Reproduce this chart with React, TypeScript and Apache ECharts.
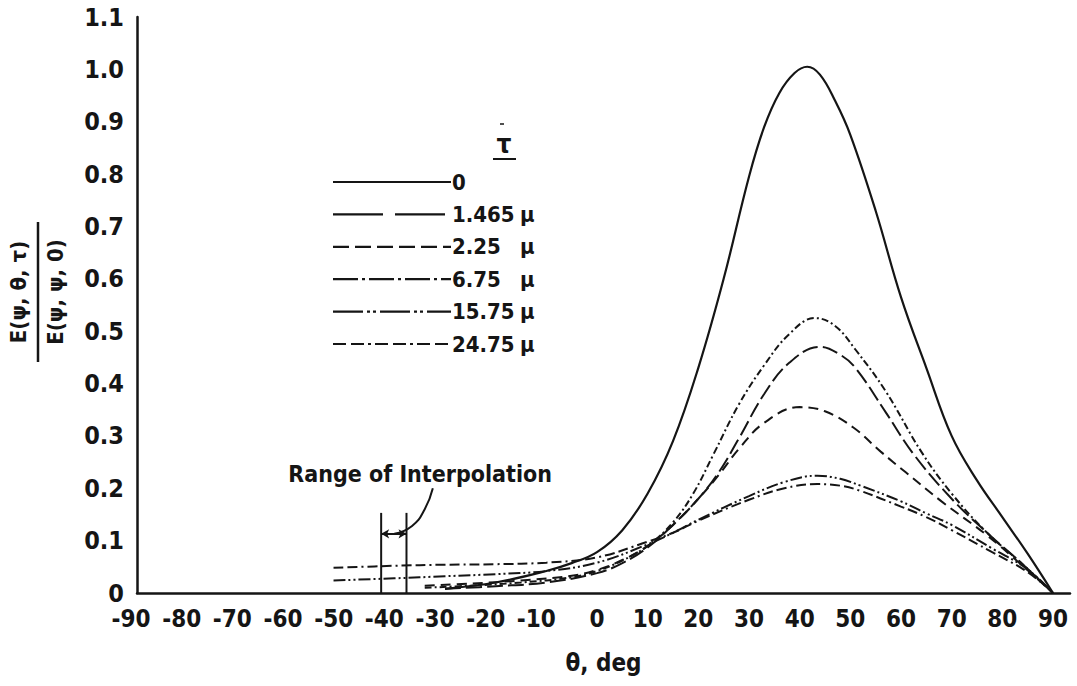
import React, { useEffect, useRef } from 'react';
import * as echarts from 'echarts';

const FONT = "'DejaVu Sans Condensed', 'Liberation Sans', sans-serif";
const INK = '#151515';

// ---- axis ticks ----
const xTicks = [-90, -80, -70, -60, -50, -40, -30, -20, -10, 0, 10, 20, 30, 40, 50, 60, 70, 80, 90];

// ---- legend / series labels ----
const tauValues = ['0', '1.465', '2.25', '6.75', '15.75', '24.75'];
const tauUnit = 'μ';

// ---- series data: [theta (deg), E ratio] ----
const tau0: number[][] = [
  [-30, 0.008], [-20, 0.02], [-10, 0.042], [-5, 0.057], [0, 0.078], [5, 0.12], [10, 0.19],
  [15, 0.29], [20, 0.43], [25, 0.6], [30, 0.795], [33, 0.89], [36, 0.955], [39, 0.993],
  [41.5, 1.005], [44, 0.99], [47, 0.94], [50, 0.875], [55, 0.73], [60, 0.565], [65, 0.43],
  [70, 0.3], [75, 0.215], [80, 0.145], [85, 0.075], [90, 0],
];
const tau1465: number[][] = [
  [-30, 0.008], [-20, 0.013], [-10, 0.02], [0, 0.038], [5, 0.057], [10, 0.087], [15, 0.13],
  [20, 0.18], [24, 0.23], [28, 0.295], [33, 0.38], [38, 0.44], [44, 0.47], [48, 0.455],
  [51, 0.43], [57, 0.345], [62.5, 0.265], [70, 0.18], [77, 0.115], [84, 0.055], [90, 0],
];
const tau225: number[][] = [
  [-34, 0.014], [-25, 0.018], [-15, 0.024], [-5, 0.033], [0, 0.044], [5, 0.063], [10, 0.09],
  [15, 0.13], [20, 0.18], [24, 0.225], [28, 0.275], [33, 0.325], [40, 0.355], [45, 0.347],
  [50.6, 0.316], [56, 0.27], [61, 0.23], [68, 0.175], [77, 0.11], [84, 0.052], [90, 0],
];
const tau675: number[][] = [
  [-34, 0.01], [-25, 0.014], [-15, 0.02], [-5, 0.03], [0, 0.042], [5, 0.062], [10, 0.09],
  [15, 0.135], [19, 0.19], [23, 0.265], [28, 0.36], [33, 0.435], [38, 0.495], [43, 0.525],
  [47, 0.51], [51, 0.465], [57, 0.385], [64, 0.27], [70, 0.19], [77, 0.115], [84, 0.055], [90, 0],
];
const tau1575: number[][] = [
  [-52, 0.024], [-40, 0.028], [-30, 0.032], [-20, 0.036], [-10, 0.042], [0, 0.058], [10, 0.093],
  [15, 0.115], [20, 0.14], [30, 0.185], [37, 0.212], [43.5, 0.224], [48, 0.218], [52, 0.205],
  [60, 0.175], [65, 0.152], [70, 0.13], [78, 0.085], [85, 0.045], [90, 0],
];
const tau2475: number[][] = [
  [-52, 0.048], [-40, 0.052], [-30, 0.054], [-20, 0.055], [-10, 0.058], [0, 0.068], [10, 0.098],
  [15, 0.115], [20, 0.138], [30, 0.178], [37, 0.2], [43.5, 0.208], [48, 0.205], [52, 0.195],
  [60, 0.165], [65, 0.145], [70, 0.12], [78, 0.078], [85, 0.04], [90, 0],
];

// ---- "Range of Interpolation" annotation ----
const interpLeft: number[][] = [[-42.6, 0], [-42.6, 0.153]];
const interpRight: number[][] = [[-37.6, 0], [-37.6, 0.153]];
const interpArrowY = 0.113;
const interpLeader: number[][] = [[-40, 0.113], [-36.5, 0.128], [-34, 0.16], [-32.4, 0.2]];
const interpLabelAt: number[][] = [[-34.9, 0.205]];
const interpLabel = 'Range of Interpolation';

const seriesData = [tau0, tau1465, tau225, tau675, tau1575, tau2475];
const plotDashes: any[] = ['solid', [16, 5], [10, 6], [7, 3, 2, 3], [12, 3, 2, 3, 2, 3], [10, 4, 10, 4, 2, 4]];
const legendDashes: any[] = [null, [50, 12], [16, 6], [25, 4, 3, 4], [30, 4, 3, 3, 3, 4], [13, 5, 13, 4, 3, 4]];

export default function App() {
  const ref = useRef<HTMLDivElement>(null);

  useEffect(() => {
    if (!ref.current) return;
    const chart = echarts.init(ref.current, null, { renderer: 'svg' });

    const lineSeries = seriesData.map((d, i) => ({
      name: tauValues[i] + (i === 0 ? '' : ' ' + tauUnit),
      type: 'line',
      data: d,
      smooth: 0.4,
      showSymbol: false,
      symbol: 'none',
      silent: true,
      lineStyle: { color: INK, width: i === 0 ? 2.2 : 2, type: plotDashes[i] },
      z: 3,
    }));

    const annotSeries = [
      {
        type: 'line', data: interpLeft, showSymbol: false, symbol: 'none', silent: true,
        lineStyle: { color: INK, width: 2 },
      },
      {
        type: 'line', data: interpRight, showSymbol: false, symbol: 'none', silent: true,
        lineStyle: { color: INK, width: 2 },
        markLine: {
          silent: true,
          symbol: ['arrow', 'arrow'],
          symbolSize: [7, 8],
          label: { show: false },
          lineStyle: { color: INK, width: 2, type: 'solid' },
          data: [[{ coord: [interpLeft[0][0], interpArrowY] }, { coord: [interpRight[0][0], interpArrowY] }]],
        },
      },
      {
        type: 'line', data: interpLeader, smooth: 0.5, showSymbol: false, symbol: 'none', silent: true,
        lineStyle: { color: INK, width: 2 },
      },
      {
        type: 'scatter', data: interpLabelAt, symbolSize: 0, silent: true,
        itemStyle: { opacity: 1, color: INK },
        label: {
          show: true, position: 'top', distance: 0, formatter: interpLabel, opacity: 1,
          color: INK, fontFamily: FONT, fontSize: 23, fontWeight: 'bold',
        },
      },
    ];

    const rowY0 = 182;
    const rowStep = 32.4;
    const legendChildren: any[] = [];
    tauValues.forEach((v, i) => {
      const y = rowY0 + i * rowStep;
      legendChildren.push({
        type: 'line',
        shape: { x1: 333, y1: y, x2: 451, y2: y },
        style: { stroke: INK, lineWidth: 2.2, lineDash: legendDashes[i] || undefined },
      });
      legendChildren.push({
        type: 'text', x: 452, y,
        style: { text: v, fill: INK, font: `bold 22px ${FONT}`, align: 'left', verticalAlign: 'middle' },
      });
      if (i > 0) {
        legendChildren.push({
          type: 'text', x: 520, y,
          style: { text: tauUnit, fill: INK, font: `bold 22px ${FONT}`, align: 'left', verticalAlign: 'middle' },
        });
      }
    });
    // header tau with bars
    legendChildren.push({
      type: 'text', x: 504, y: 157,
      style: { text: 'τ', fill: INK, font: `bold 26px ${FONT}`, align: 'center', verticalAlign: 'bottom' },
    });
    legendChildren.push({ type: 'line', shape: { x1: 493, y1: 159, x2: 516, y2: 159 }, style: { stroke: INK, lineWidth: 2 } });
    legendChildren.push({ type: 'line', shape: { x1: 500, y1: 124, x2: 504, y2: 124 }, style: { stroke: INK, lineWidth: 1.5 } });

    const yTitle = {
      type: 'group', x: 38, y: 292, rotation: Math.PI / 2,
      children: [
        { type: 'text', x: 0, y: -9, style: { text: 'E(ψ, θ, τ)', fill: INK, font: `bold 22px ${FONT}`, align: 'center', verticalAlign: 'bottom' } },
        { type: 'line', shape: { x1: -70, y1: 0, x2: 70, y2: 0 }, style: { stroke: INK, lineWidth: 2.5 } },
        { type: 'text', x: 0, y: 6, style: { text: 'E(ψ, ψ, 0)', fill: INK, font: `bold 22px ${FONT}`, align: 'center', verticalAlign: 'top' } },
      ],
    };

    const option: any = {
      animation: false,
      backgroundColor: '#ffffff',
      grid: { left: 137, right: 7, top: 17, bottom: 93 },
      xAxis: {
        type: 'value', min: -90.79, max: 93.36,
        axisLine: { show: true, onZero: false, lineStyle: { color: INK, width: 2.5 } },
        axisTick: { show: false },
        splitLine: { show: false },
        axisLabel: {
          customValues: xTicks,
          margin: 14,
          color: INK, fontFamily: FONT, fontSize: 24, fontWeight: 'bold',
          formatter: (v: number) => (v < 0 ? `{neg|${v}}` : `${v}`),
          rich: { neg: { padding: [0, 20, 0, 0], color: INK, fontFamily: FONT, fontSize: 24, fontWeight: 'bold' } },
        },
        name: 'θ, deg', nameLocation: 'middle', nameGap: 58,
        nameTextStyle: { color: INK, fontFamily: FONT, fontSize: 24, fontWeight: 'bold' },
      },
      yAxis: {
        type: 'value', min: 0, max: 1.1, interval: 0.1,
        axisLine: { show: true, onZero: false, lineStyle: { color: INK, width: 2.5 } },
        axisTick: { show: false },
        splitLine: { show: false },
        axisLabel: {
          margin: 13,
          color: INK, fontFamily: FONT, fontSize: 25, fontWeight: 'bold',
          formatter: (v: number) => (Math.abs(v) < 1e-9 ? '0' : v.toFixed(1)),
        },
      },
      series: [...lineSeries, ...annotSeries],
      graphic: [{ type: 'group', children: legendChildren }, yTitle],
    };

    chart.setOption(option);
    return () => chart.dispose();
  }, []);

  return (
    <div
      ref={ref}
      style={{ position: 'absolute', left: 0, top: 0, width: 1077, height: 686, background: '#fff' }}
    />
  );
}
